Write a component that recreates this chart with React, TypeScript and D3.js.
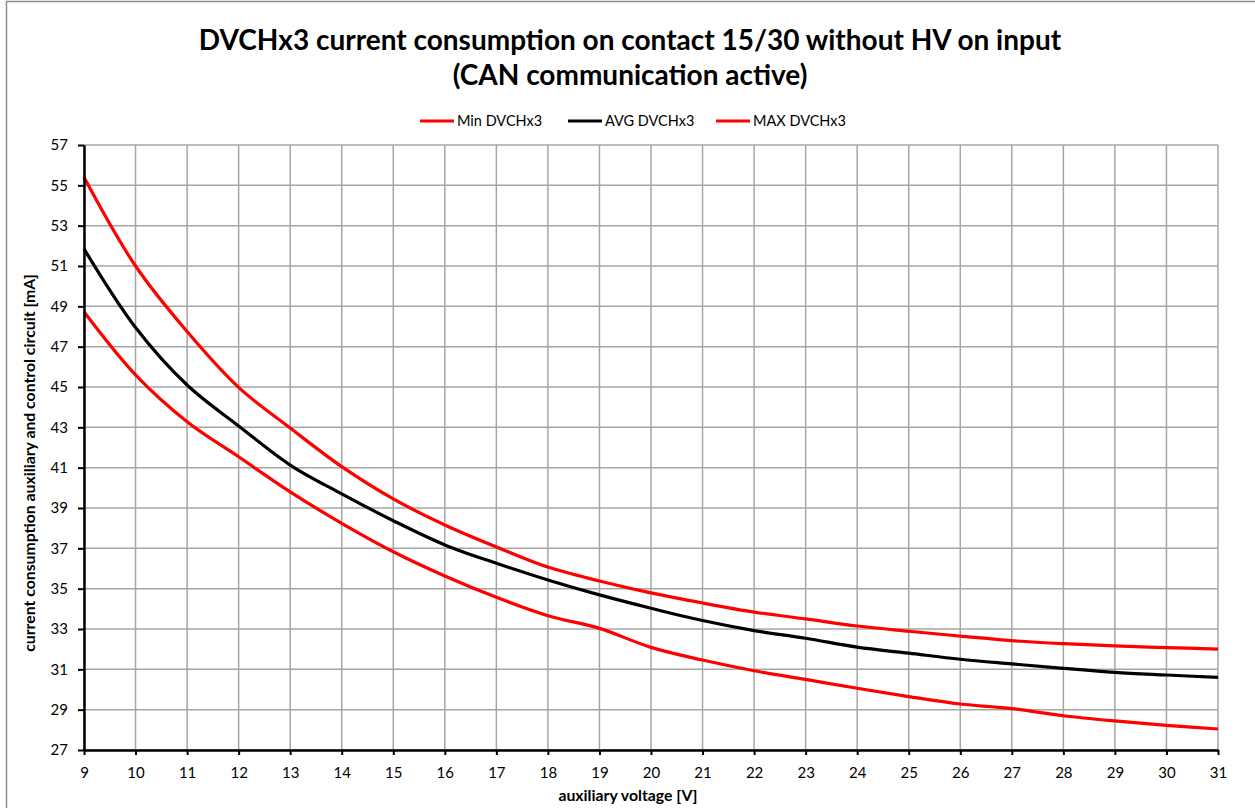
import { useEffect, useRef } from 'react';
import * as d3 from 'd3';

const VOLTAGES = [9, 10, 11, 12, 13, 14, 15, 16, 17, 18, 19, 20, 21, 22, 23, 24, 25, 26, 27, 28, 29, 30, 31];

const MIN_SERIES = [
  48.73, 45.6, 43.28, 41.54, 39.8, 38.24, 36.83, 35.63, 34.57, 33.66, 33.03, 32.09,
  31.46, 30.93, 30.5, 30.06, 29.65, 29.28, 29.05, 28.7, 28.44, 28.22, 28.04,
];

const AVG_SERIES = [
  51.85, 47.95, 45.1, 43.07, 41.13, 39.7, 38.37, 37.17, 36.26, 35.43, 34.69, 34.03,
  33.42, 32.92, 32.54, 32.1, 31.8, 31.5, 31.27, 31.05, 30.85, 30.72, 30.6,
];

const MAX_SERIES = [
  55.4, 51.0, 47.75, 44.98, 42.97, 41.05, 39.45, 38.16, 37.07, 36.07, 35.38, 34.79,
  34.29, 33.84, 33.5, 33.15, 32.89, 32.65, 32.42, 32.27, 32.16, 32.08, 32.0,
];

const Y_TICKS = [27, 29, 31, 33, 35, 37, 39, 41, 43, 45, 47, 49, 51, 53, 55, 57];

const SERIES = [
  { name: 'Min DVCHx3', values: MIN_SERIES, color: '#ff0000' },
  { name: 'AVG DVCHx3', values: AVG_SERIES, color: '#000000' },
  { name: 'MAX DVCHx3', values: MAX_SERIES, color: '#ff0000' },
];

const FONT = 'Lato, "Open Sans", sans-serif';
const WIDTH = 1255;
const HEIGHT = 808;

export default function App() {
  const svgRef = useRef<SVGSVGElement>(null);

  useEffect(() => {
    if (!svgRef.current) return;
    const svg = d3.select(svgRef.current);
    svg.selectAll('*').remove();

    const margin = { top: 145, right: 37, bottom: 58, left: 84 };
    const innerWidth = WIDTH - margin.left - margin.right;
    const innerHeight = HEIGHT - margin.top - margin.bottom;

    // chart frame
    svg
      .append('rect')
      .attr('x', 6.5)
      .attr('y', 1.5)
      .attr('width', WIDTH + 10)
      .attr('height', HEIGHT + 10)
      .attr('fill', '#fff')
      .attr('stroke', '#8c8c8c')
      .attr('stroke-width', 1.5);

    // title
    const title = svg
      .append('text')
      .attr('text-anchor', 'middle')
      .attr('font-family', FONT)
      .attr('font-weight', 'bold')
      .attr('font-size', 28)
      .attr('fill', '#000');
    title.append('tspan').attr('x', 630).attr('y', 50).text('DVCHx3 current consumption on contact 15/30 without HV on input');
    title.append('tspan').attr('x', 630).attr('y', 85).text('(CAN communication active)');

    // legend
    const legendX = [420, 568, 716];
    const legend = svg
      .selectAll('g.legend')
      .data(SERIES)
      .join('g')
      .attr('class', 'legend')
      .attr('transform', (_d, i) => `translate(${legendX[i]},121)`);
    legend
      .append('line')
      .attr('x1', 0)
      .attr('x2', 34)
      .attr('stroke', (d) => d.color)
      .attr('stroke-width', 3);
    legend
      .append('text')
      .attr('x', 37)
      .attr('dy', '0.35em')
      .attr('font-family', FONT)
      .attr('font-size', 14.5)
      .attr('fill', '#000')
      .text((d) => d.name);

    const g = svg.append('g').attr('transform', `translate(${margin.left},${margin.top})`);

    const x = d3.scaleLinear().domain([9, 31]).range([0, innerWidth]);
    const y = d3.scaleLinear().domain([27, 57]).range([innerHeight, 0]);

    // grid
    g.selectAll('line.vgrid')
      .data(VOLTAGES)
      .join('line')
      .attr('class', 'vgrid')
      .attr('x1', (d) => x(d))
      .attr('x2', (d) => x(d))
      .attr('y1', 0)
      .attr('y2', innerHeight)
      .attr('stroke', '#a6a6a6')
      .attr('stroke-width', 1.5);
    g.selectAll('line.hgrid')
      .data(Y_TICKS)
      .join('line')
      .attr('class', 'hgrid')
      .attr('x1', 0)
      .attr('x2', innerWidth)
      .attr('y1', (d) => y(d))
      .attr('y2', (d) => y(d))
      .attr('stroke', '#a6a6a6')
      .attr('stroke-width', 1.5);

    // lines
    const line = d3
      .line<number>()
      .x((_d, i) => x(VOLTAGES[i]))
      .y((d) => y(d))
      .curve(d3.curveCatmullRom.alpha(0.5));

    g.selectAll('path.series')
      .data(SERIES)
      .join('path')
      .attr('class', 'series')
      .attr('d', (d) => line(d.values))
      .attr('fill', 'none')
      .attr('stroke', (d) => d.color)
      .attr('stroke-width', 3.2)
      .attr('stroke-linejoin', 'round');

    // axes
    const xAxis = g
      .append('g')
      .attr('transform', `translate(0,${innerHeight})`)
      .call(d3.axisBottom(x).tickValues(VOLTAGES).tickSize(5).tickSizeOuter(0).tickPadding(12).tickFormat(d3.format('d')));
    const yAxis = g
      .append('g')
      .call(d3.axisLeft(y).tickValues(Y_TICKS).tickSize(6).tickSizeOuter(0).tickPadding(10).tickFormat(d3.format('d')));

    [xAxis, yAxis].forEach((ax) => {
      ax.select('.domain').attr('stroke', '#000').attr('stroke-width', 2.5);
      ax.selectAll('.tick line').attr('stroke', '#000').attr('stroke-width', 2);
      ax.selectAll('text').attr('font-family', FONT).attr('font-size', 15).attr('fill', '#000');
    });

    // axis titles
    svg
      .append('text')
      .attr('x', 628)
      .attr('y', 801)
      .attr('text-anchor', 'middle')
      .attr('font-family', FONT)
      .attr('font-weight', 'bold')
      .attr('font-size', 15.8)
      .text('auxiliary voltage [V]');
    svg
      .append('text')
      .attr('transform', `translate(35,463) rotate(-90)`)
      .attr('text-anchor', 'middle')
      .attr('font-family', FONT)
      .attr('font-weight', 'bold')
      .attr('font-size', 15.8)
      .text('current consumption auxiliary and control circuit [mA]');
  }, []);

  return (
    <svg
      ref={svgRef}
      width={WIDTH}
      height={HEIGHT}
      style={{ position: 'absolute', left: 0, top: 0, display: 'block' }}
    />
  );
}
